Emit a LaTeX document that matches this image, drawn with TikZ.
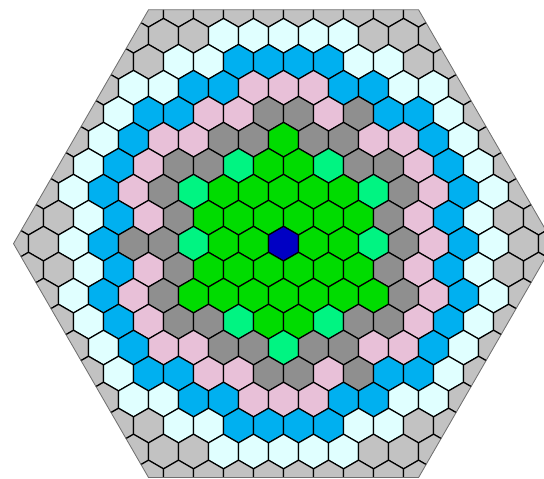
\documentclass[tikz,border=0pt]{standalone}
\usepackage{xcolor}
\usepackage{tikz}
\definecolor{core}{HTML}{0000C4}
\definecolor{fuel}{HTML}{00DC00}
\definecolor{mint}{HTML}{00F482}
\definecolor{slate}{HTML}{8F8F8F}
\definecolor{rose}{HTML}{E8C0D8}
\definecolor{azure}{HTML}{00B0F0}
\definecolor{frost}{HTML}{E0FFFF}
\definecolor{shell}{HTML}{C2C2C2}
\definecolor{rim}{HTML}{707070}
% one letter per cell in the row lists
\colorlet{B}{core}
\colorlet{G}{fuel}
\colorlet{S}{mint}
\colorlet{D}{slate}
\colorlet{P}{rose}
\colorlet{C}{azure}
\colorlet{L}{frost}
\colorlet{W}{shell}

\begin{document}
\begin{tikzpicture}[x=1cm,y=1cm,
  cell/.style={draw=black,line width=1.15pt,line join=round}]
  \useasboundingbox (-9.45,-7.82) rectangle (8.68,8.12);
  \def\R{0.57735}% corner radius of a cell, pitch = 1
  \begin{scope}
    \clip (0:9) -- (60:9) -- (120:9) -- (180:9) -- (240:9) -- (300:9) -- cycle;
    \foreach \r/\cols in {
      -9/{W,W,W,W,W,W,W,W,W,W},
      -8/{W,W,W,L,L,L,L,L,W,W,W},
      -7/{W,W,L,L,C,C,C,C,L,L,W,W},
      -6/{W,L,L,C,C,P,P,P,C,C,L,L,W},
      -5/{W,L,C,C,P,P,D,D,P,D,C,C,L,W},
      -4/{W,L,C,P,P,D,D,G,D,D,P,P,C,L,W},
      -3/{W,L,C,P,D,D,S,G,G,S,D,D,P,C,L,W},
      -2/{W,L,C,P,D,S,G,G,G,G,G,S,D,P,C,L,W},
      -1/{W,W,L,C,P,D,G,G,G,G,G,G,D,P,C,L,W,W},
      0/{W,W,L,C,D,D,S,G,G,B,G,G,S,D,P,C,L,W,W},
      1/{W,W,L,C,P,D,G,G,G,G,G,G,D,P,C,L,W,W},
      2/{W,L,C,P,D,G,G,G,G,G,G,G,D,P,C,L,W},
      3/{W,L,C,P,D,D,S,G,G,S,D,D,P,C,L,W},
      4/{W,L,C,P,P,D,D,S,D,D,P,P,C,L,W},
      5/{W,L,C,C,P,P,D,D,P,D,C,C,L,W},
      6/{W,L,L,C,C,P,P,P,C,C,L,L,W},
      7/{W,W,L,L,C,C,C,C,L,L,W,W},
      8/{W,W,W,L,L,L,L,L,W,W,W},
      9/{W,W,W,W,W,W,W,W,W,W}}
    {
      \pgfmathtruncatemacro{\qa}{max(-9,-9-(\r))}
      \foreach \c [count=\i from 0] in \cols
      {
        \pgfmathsetmacro{\x}{\qa+\i+(\r)/2}
        \pgfmathsetmacro{\y}{-(\r)*0.866025}
        \filldraw[cell,fill=\c] (\x,\y) +(30:\R) -- +(90:\R) -- +(150:\R)
          -- +(210:\R) -- +(270:\R) -- +(330:\R) -- cycle;
      }
    }
  \end{scope}
  \draw[rim,line width=0.8pt] (0:9) -- (60:9) -- (120:9) -- (180:9) -- (240:9) -- (300:9) -- cycle;
\end{tikzpicture}
\end{document}
